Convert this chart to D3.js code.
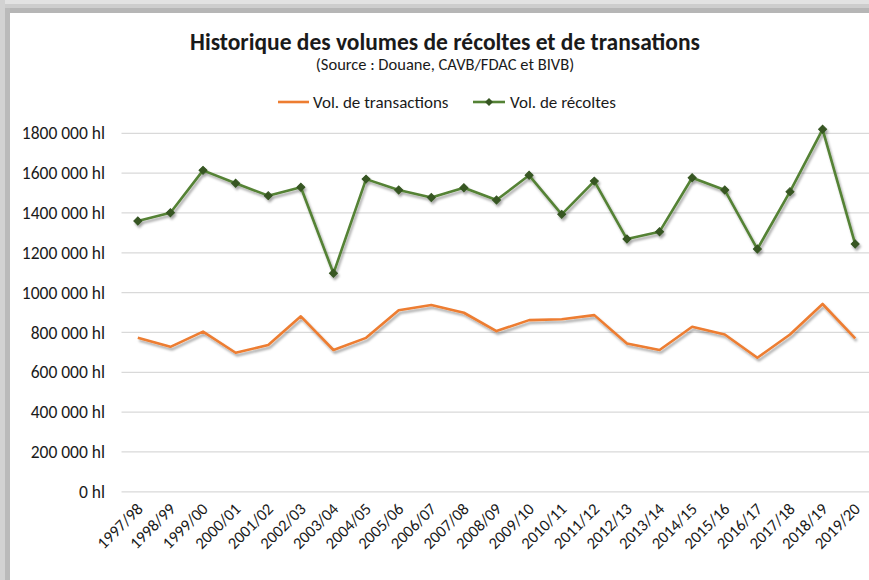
<!DOCTYPE html>
<html><head><meta charset="utf-8">
<script src="https://cdn.jsdelivr.net/npm/d3@7"></script>
<style>
html,body{margin:0;padding:0;background:#fff;}
svg{display:block;}
text{font-family:Carlito, Lato, sans-serif;fill:#1a1a1a;}
</style></head>
<body>
<svg id="chart" width="869" height="580"></svg>
<script>
const categories = ["1997/98","1998/99","1999/00","2000/01","2001/02","2002/03","2003/04","2004/05","2005/06","2006/07","2007/08","2008/09","2009/10","2010/11","2011/12","2012/13","2013/14","2014/15","2015/16","2016/17","2017/18","2018/19","2019/20"];
const transactions = [773000,728000,804000,698000,737000,881000,712000,773000,912000,938000,899000,807000,862000,866000,887000,745000,712000,829000,790000,673000,790000,943000,770000];
const recoltes = [1360000,1401000,1614000,1549000,1487000,1529000,1097000,1570000,1515000,1478000,1527000,1465000,1589000,1393000,1560000,1269000,1306000,1577000,1515000,1219000,1507000,1820000,1244000];
const yTicks = [0,200000,400000,600000,800000,1000000,1200000,1400000,1600000,1800000];
const title = "Historique des volumes de récoltes et de transations";
const subtitle = "(Source : Douane, CAVB/FDAC et BIVB)";
const seriesNames = ["Vol. de transactions","Vol. de récoltes"];

const svg = d3.select("#chart");

const defs = svg.append("defs");
const f = defs.append("filter").attr("id","shadow").attr("x","-10%").attr("y","-10%").attr("width","120%").attr("height","130%");
f.append("feDropShadow").attr("dx",1.5).attr("dy",2.5).attr("stdDeviation",1.3).attr("flood-color","#000").attr("flood-opacity",0.35);

// frame
svg.append("rect").attr("x",0).attr("y",0).attr("width",869).attr("height",580).attr("fill","#fff");
svg.append("rect").attr("x",0).attr("y",0).attr("width",869).attr("height",4).attr("fill","#e2e2e2");
svg.append("rect").attr("x",0).attr("y",4).attr("width",869).attr("height",4).attr("fill","#cdcdcd");
svg.append("rect").attr("x",0).attr("y",8).attr("width",869).attr("height",5).attr("fill","#b6b6b6");
svg.append("rect").attr("x",0).attr("y",0).attr("width",5).attr("height",580).attr("fill","#d2d2d2");
svg.append("rect").attr("x",5).attr("y",8).attr("width",5).attr("height",572).attr("fill","#bababa");

const x = d3.scaleBand().domain(categories).range([121.5, 871.5]);
const y = d3.scaleLinear().domain([0,1800000]).range([491.8,133.3]);
const cx = d => x(d) + x.bandwidth()/2;

// grid
svg.append("g").selectAll("line").data(yTicks).join("line")
  .attr("x1",121.5).attr("x2",871.5)
  .attr("y1",d=>y(d)).attr("y2",d=>y(d))
  .attr("stroke","#d9d9d9").attr("stroke-width",1.3);

// y axis labels
const fmt = v => (v===0 ? "0" : (v/1000) + " 000") + " hl";
const yAxis = d3.axisLeft(y).tickValues(yTicks).tickFormat(fmt).tickSize(0).tickPadding(0);
const gy = svg.append("g").attr("transform","translate(105,0)").call(yAxis);
gy.select(".domain").remove();
gy.selectAll("text").attr("font-size",17.5).attr("fill","#1a1a1a").style("font-family","Carlito, Lato, sans-serif");

// x axis labels
const xAxis = d3.axisBottom(x).tickSize(0).tickPadding(0);
const gx = svg.append("g").attr("transform","translate(0,492)").call(xAxis);
gx.select(".domain").remove();
gx.selectAll("text")
  .attr("font-size",16.5).attr("fill","#1a1a1a").style("font-family","Carlito, Lato, sans-serif")
  .attr("text-anchor","end").attr("dy",0).attr("y",0)
  .attr("transform","translate(6,18) rotate(-45)");

// lines
const line = d3.line().x((d,i)=>cx(categories[i])).y(d=>y(d));
const g = svg.append("g").attr("filter","url(#shadow)");
g.append("path").datum(transactions).attr("d",line).attr("fill","none").attr("stroke","#ed7d31").attr("stroke-width",2.6).attr("stroke-linejoin","round");
g.append("path").datum(recoltes).attr("d",line).attr("fill","none").attr("stroke","#548235").attr("stroke-width",2.6).attr("stroke-linejoin","round");
const sym = d3.symbol().type(d3.symbolSquare).size(32);
g.selectAll("path.m").data(recoltes).join("path").attr("class","m")
  .attr("d",sym).attr("transform",(d,i)=>`translate(${cx(categories[i])},${y(d)}) rotate(45)`)
  .attr("fill","#375623").attr("stroke","#375623").attr("stroke-width",1);

// titles
svg.append("text").attr("x",445).attr("y",50).attr("text-anchor","middle")
  .attr("font-size",23.5).attr("font-weight","bold").attr("fill","#000").text(title);
svg.append("text").attr("x",445).attr("y",70).attr("text-anchor","middle")
  .attr("font-size",16.5).attr("fill","#000").text(subtitle);

// legend
const lg = svg.append("g");
lg.append("line").attr("x1",278).attr("x2",309).attr("y1",102).attr("y2",102).attr("stroke","#ed7d31").attr("stroke-width",2.6);
lg.append("text").attr("x",313).attr("y",108).attr("font-size",17).attr("fill","#1a1a1a").text(seriesNames[0]);
lg.append("line").attr("x1",473).attr("x2",505).attr("y1",102).attr("y2",102).attr("stroke","#548235").attr("stroke-width",2.6);
lg.append("path").attr("d",sym).attr("transform","translate(489,102) rotate(45)").attr("fill","#375623");
lg.append("text").attr("x",510).attr("y",108).attr("font-size",17).attr("fill","#1a1a1a").text(seriesNames[1]);
</script>
</body></html>
